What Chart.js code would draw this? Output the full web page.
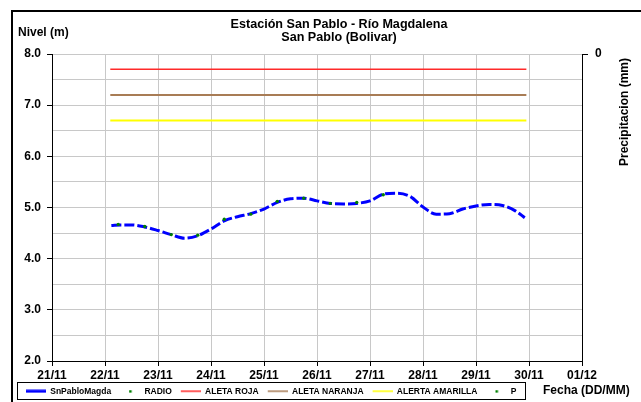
<!DOCTYPE html>
<html>
<head>
<meta charset="utf-8">
<script src="https://cdn.jsdelivr.net/npm/chart.js@4.4.0/dist/chart.umd.min.js"></script>
<style>
    html, body { margin: 0; padding: 0; background: #fff; }
    #wrap { position: relative; width: 641px; height: 402px; }
</style>
</head>
<body>
<div id="wrap"><canvas id="nivelChart"></canvas></div>
<script>
        // --- Daten (Tag im Monat, 31 = 01/12) ---
        const levelDays   = [22.12, 22.3, 22.5, 22.75, 23.0, 23.25, 23.5, 23.75, 24.0, 24.25, 24.5, 24.75, 25.0, 25.25, 25.5, 25.75, 26.0, 26.25, 26.5, 26.75, 27.0, 27.25, 27.5, 27.75, 28.0, 28.25, 28.5, 28.75, 29.0, 29.25, 29.5, 29.75, 29.92];
        const levelValues = [4.65, 4.66, 4.66, 4.62, 4.55, 4.47, 4.40, 4.45, 4.58, 4.74, 4.82, 4.88, 4.97, 5.10, 5.17, 5.18, 5.13, 5.08, 5.07, 5.08, 5.13, 5.26, 5.28, 5.22, 5.01, 4.87, 4.88, 4.97, 5.03, 5.06, 5.04, 4.93, 4.80];

        const radioDays   = [22.25, 22.75, 23.25, 23.75, 24.25, 24.75, 25.25, 25.75, 26.25, 26.75, 27.25];
        const radioValues = [4.67, 4.63, 4.47, 4.46, 4.77, 4.87, 5.12, 5.18, 5.08, 5.10, 5.25];

        const alertDays      = [22.1, 29.95];
        const alertRoja      = [7.7, 7.7];
        const alertNaranja   = [7.2, 7.2];
        const alertAmarilla  = [6.7, 6.7];

        const dayTicks   = [21, 22, 23, 24, 25, 26, 27, 28, 29, 30, 31];
        const tickLabels = ['21/11', '22/11', '23/11', '24/11', '25/11', '26/11', '27/11', '28/11', '29/11', '30/11', '01/12'];

        const FONT = '"Liberation Sans", Arial, sans-serif';
        Chart.defaults.font.family = FONT;
        Chart.defaults.color = '#000';

        const toPoints = (xs, ys) => xs.map((x, i) => ({ x: x, y: ys[i] }));

        // kleine Symbole fuer die Legende (26px breit, Symbol rechts)
        const SW = 26;
        function lineSwatch(color, w) {
            const c = document.createElement('canvas');
            c.width = SW; c.height = 4;
            const g = c.getContext('2d');
            g.fillStyle = color;
            g.fillRect(SW - 20, 2 - w / 2, 20, w);
            return c;
        }
        function dotSwatch(color) {
            const c = document.createElement('canvas');
            c.width = SW; c.height = 4;
            const g = c.getContext('2d');
            g.fillStyle = color;
            g.fillRect(SW - 11, 1, 2.5, 2.5);
            return c;
        }

        // Rahmen, Titel, Achsentitel, Legendenkasten
        const decorPlugin = {
            id: 'decor',
            afterDraw(chart) {
                const ctx = chart.ctx;
                ctx.save();
                ctx.strokeStyle = '#000';
                ctx.lineWidth = 2;
                ctx.beginPath();
                ctx.moveTo(12, 402); ctx.lineTo(12, 11); ctx.lineTo(641, 11);
                ctx.stroke();

                ctx.fillStyle = '#000';
                ctx.textBaseline = 'middle';
                ctx.textAlign = 'center';
                ctx.font = 'bold 12.6px ' + FONT;
                ctx.fillText('Estación San Pablo - Río Magdalena', 339, 25);
                ctx.fillText('San Pablo (Bolivar)', 339, 38);

                ctx.textAlign = 'left';
                ctx.font = 'bold 12px ' + FONT;
                ctx.fillText('Nivel (m)', 18, 33);
                ctx.fillText('Fecha (DD/MM)', 543, 391);

                ctx.save();
                ctx.translate(625, 112);
                ctx.rotate(-Math.PI / 2);
                ctx.textAlign = 'center';
                ctx.fillText('Precipitacion (mm)', 0, 0);
                ctx.restore();

                const hb = chart.legend.legendHitBoxes;
                if (hb && hb.length) {
                    const last = hb[hb.length - 1];
                    const yc = hb[0].top + hb[0].height / 2;
                    ctx.lineWidth = 1;
                    ctx.strokeRect(17.5, Math.round(yc - 9) + 0.5, Math.round(last.left + last.width + 9 - 17), 17);
                }
                ctx.restore();
            }
        };

        const ctxNivel = document.getElementById('nivelChart').getContext('2d');
        new Chart(ctxNivel, {
            type: 'line',
            data: {
                datasets: [
                    {
                        label: 'SnPabloMagda',
                        data: toPoints(levelDays, levelValues),
                        borderColor: '#0000ff',
                        borderWidth: 3,
                        borderDash: [10, 3],
                        cubicInterpolationMode: 'monotone',
                        pointRadius: 0,
                        order: 2,
                        swatch: lineSwatch('#0000ff', 3)
                    },
                    {
                        label: 'RADIO',
                        data: toPoints(radioDays, radioValues),
                        showLine: false,
                        pointRadius: 1.7,
                        pointBorderWidth: 0,
                        pointBackgroundColor: '#008000',
                        borderColor: '#008000',
                        order: 1,
                        swatch: dotSwatch('#008000')
                    },
                    {
                        label: 'ALETA ROJA',
                        data: toPoints(alertDays, alertRoja),
                        borderColor: '#ff2a2a',
                        borderWidth: 1.5,
                        pointRadius: 0,
                        order: 3,
                        swatch: lineSwatch('#ff2a2a', 1.5)
                    },
                    {
                        label: 'ALETA NARANJA',
                        data: toPoints(alertDays, alertNaranja),
                        borderColor: '#a87c55',
                        borderWidth: 2,
                        pointRadius: 0,
                        order: 3,
                        swatch: lineSwatch('#a87c55', 1.5)
                    },
                    {
                        label: 'ALERTA AMARILLA',
                        data: toPoints(alertDays, alertAmarilla),
                        borderColor: '#ffff00',
                        borderWidth: 2,
                        pointRadius: 0,
                        order: 3,
                        swatch: lineSwatch('#ffff00', 1.5)
                    },
                    {
                        label: 'P',
                        data: [],
                        showLine: false,
                        pointRadius: 1.7,
                        pointBackgroundColor: '#008000',
                        borderColor: '#008000',
                        yAxisID: 'y2',
                        swatch: dotSwatch('#008000')
                    }
                ]
            },
            options: {
                responsive: true,
                maintainAspectRatio: false,
                animation: false,
                layout: { padding: { left: 17, top: 54, right: 0, bottom: 0 } },
                plugins: {
                    title: { display: false },
                    tooltip: { enabled: false },
                    legend: {
                        position: 'bottom',
                        align: 'start',
                        maxHeight: 18,
                        labels: {
                            usePointStyle: true,
                            pointStyleWidth: SW,
                            padding: 3,
                            color: '#000',
                            font: { size: 8.5, weight: 'bold' },
                            generateLabels: (chart) => chart.data.datasets.map((ds, i) => ({
                                text: ds.label,
                                pointStyle: ds.swatch,
                                datasetIndex: i,
                                hidden: false,
                                lineWidth: 0,
                                fillStyle: 'rgba(0,0,0,0)',
                                strokeStyle: 'rgba(0,0,0,0)',
                                fontColor: '#000'
                            }))
                        }
                    }
                },
                scales: {
                    x: {
                        type: 'linear',
                        min: 21,
                        max: 31,
                        afterFit: (s) => { s.height = 23; },
                        afterBuildTicks: (s) => { s.ticks = dayTicks.map(v => ({ value: v })); },
                        ticks: {
                            autoSkip: false,
                            maxRotation: 0,
                            padding: 2,
                            font: { size: 12, weight: 'bold' },
                            callback: (v) => tickLabels[dayTicks.indexOf(v)]
                        },
                        grid: { color: '#c8c8c8', tickColor: '#000', tickLength: 5 },
                        border: { color: '#000', width: 1 }
                    },
                    y: {
                        min: 2,
                        max: 8,
                        afterFit: (s) => { s.width = 35; },
                        ticks: {
                            stepSize: 0.5,
                            autoSkip: false,
                            padding: 6,
                            font: { size: 12, weight: 'bold' },
                            callback: (v) => Number.isInteger(v) ? v.toFixed(1) : ''
                        },
                        grid: {
                            color: '#c8c8c8',
                            tickLength: 5,
                            tickColor: (c) => (c.tick && Number.isInteger(c.tick.value)) ? '#000' : 'rgba(0,0,0,0)'
                        },
                        border: { color: '#000', width: 1 }
                    },
                    y2: {
                        position: 'right',
                        min: 0,
                        max: 10,
                        reverse: true,
                        afterFit: (s) => { s.width = 59; },
                        afterBuildTicks: (s) => { s.ticks = [{ value: 0 }]; },
                        ticks: {
                            padding: 7,
                            font: { size: 12, weight: 'bold' },
                            callback: () => '0'
                        },
                        grid: { drawOnChartArea: false, tickColor: '#000', tickLength: 6 },
                        border: { color: '#000', width: 1 }
                    }
                }
            },
            plugins: [decorPlugin]
        });
</script>
</body>
</html>
